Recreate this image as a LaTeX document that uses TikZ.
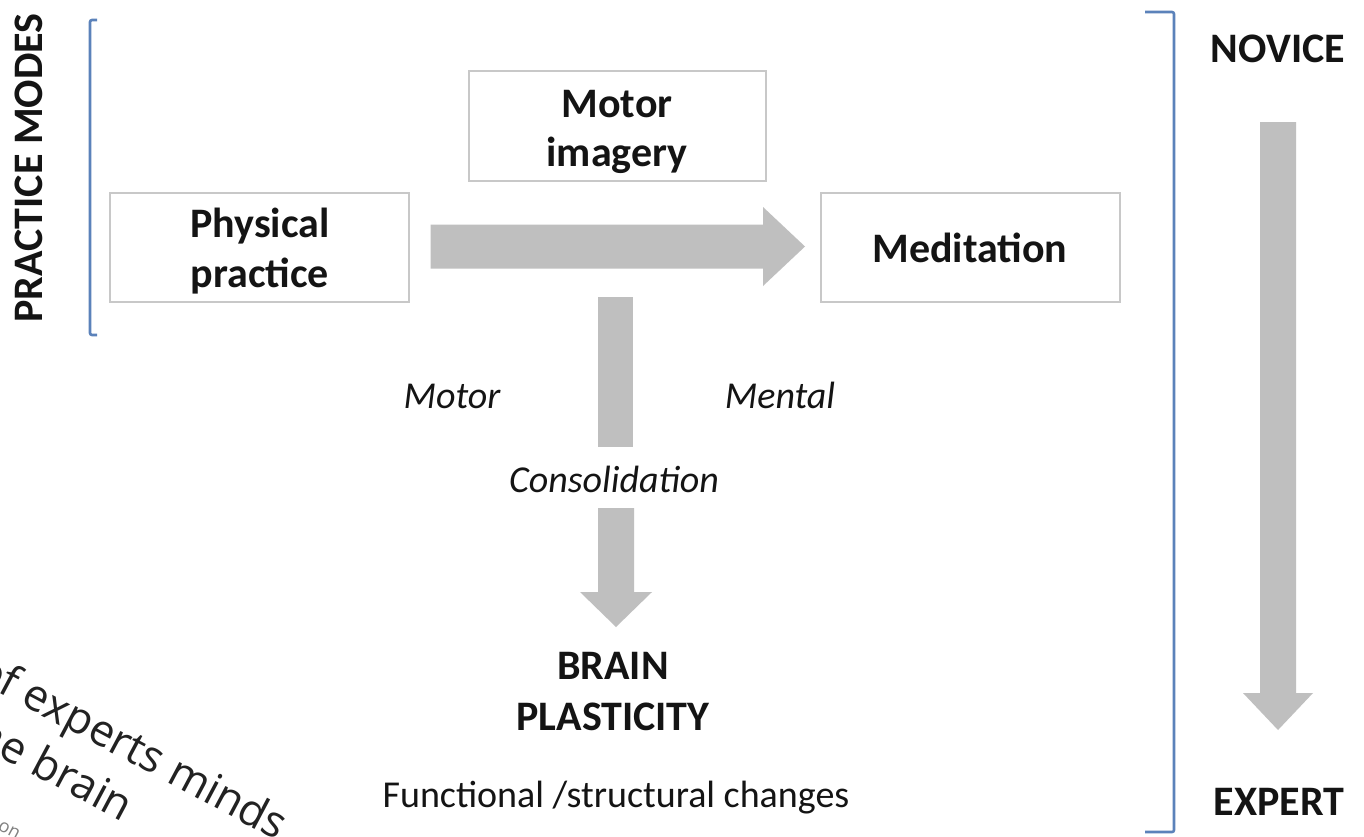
\documentclass[tikz,border=0pt]{standalone}
\usepackage{fontspec}
\setmainfont{Carlito}
\newfontfamily\wmfont{Open Sans}
\definecolor{txt}{HTML}{141414}
\definecolor{arrowgray}{HTML}{BFBFBF}
\definecolor{boxgray}{HTML}{C8C8C8}
\definecolor{bracketblue}{HTML}{5B82BA}
\definecolor{wmtxt}{HTML}{222222}
\begin{document}
\begin{tikzpicture}[x=1pt,y=-1pt,
  stepbox/.style={draw=boxgray, line width=1.4pt, fill=white, inner sep=0pt},
  boldlab/.style={font=\fontsize{42}{50}\selectfont\bfseries, text=txt, inner sep=0pt, anchor=base},
  itlab/.style={font=\fontsize{38}{46}\selectfont\itshape, text=txt, inner sep=0pt, anchor=base},
  reglab/.style={font=\fontsize{38}{46}\selectfont, text=txt, inner sep=0pt, anchor=base},
  bracket/.style={draw=bracketblue, line width=2.6pt, rounded corners=2pt},
  blockarrow/.style={fill=arrowgray, draw=none},
  wm/.style={font=\wmfont\fontsize{44}{52}\selectfont, text=wmtxt, inner sep=0pt, anchor=base west, rotate=-28},
  wmsmall/.style={font=\wmfont\fontsize{18}{22}\selectfont, text=gray, inner sep=0pt, anchor=base west, rotate=-28}
]
\useasboundingbox (0,0) rectangle (1364,836);
\clip (0,0) rectangle (1364,836);
\fill[white] (0,0) rectangle (1364,836);

% brackets
\draw[bracket] (97,20) -- (90,20) -- (90,335) -- (97,335);
\draw[bracket] (1145,12) -- (1174,12) -- (1174,832) -- (1145,832);

% side labels
\node[boldlab, rotate=90] (modes) at (42,168) {PRACTICE MODES};
\node[boldlab] (novice) at (1278,62) {NOVICE};
\node[boldlab] (expert) at (1279,815) {EXPERT};

% boxes
\node[stepbox, minimum width=299pt, minimum height=109pt] (phys) at (259.5,247.5) {};
\node[stepbox, minimum width=297pt, minimum height=110pt] (imag) at (617.5,126) {};
\node[stepbox, minimum width=299pt, minimum height=109pt] (medi) at (970.5,247.5) {};

\node[boldlab] (physA) at (260,237) {Physical};
\node[boldlab] (physB) at (260,287) {practice};
\node[boldlab] (imagA) at (617,117) {Motor};
\node[boldlab] (imagB) at (617,166) {imagery};
\node[boldlab] (mediA) at (970,262) {Meditation};

% horizontal block arrow from physical practice to meditation
\coordinate (hs) at ([xshift=21pt]phys.east);
\fill[blockarrow] (hs |- 0,224.5) -- (763,224.5) -- (763,207) -- (805,246.5)
  -- (763,286) -- (763,268.5) -- (hs |- 0,268.5) -- cycle;

% vertical bar
\fill[blockarrow] (598,297) rectangle (633,447);

% labels
\node[itlab] (motor) at (452,408) {Motor};
\node[itlab] (mental) at (780,408) {Mental};
\node[itlab] (consol) at (614,492) {Consolidation};

% down arrow to brain plasticity
\fill[blockarrow] (598,508) -- (634,508) -- (634,592) -- (652,592) -- (616,627)
  -- (580,592) -- (598,592) -- cycle;

\node[boldlab] (brainA) at (613,679) {BRAIN};
\node[boldlab] (brainB) at (613,730) {PLASTICITY};
\node[reglab] (changes) at (616,807) {Functional /structural changes};

% novice -> expert arrow
\fill[blockarrow] (1260,122) -- (1296,122) -- (1296,693) -- (1313,693) -- (1278,730)
  -- (1243,693) -- (1260,693) -- cycle;

% overlaid slanted text (bottom left)
\node[wm] (wm1) at (-27,679) {of experts minds};
\node[wm] (wm2) at (-41,735) {the brain};
\node[wmsmall] (wm3) at (-3,829) {on};
\end{tikzpicture}
\end{document}
